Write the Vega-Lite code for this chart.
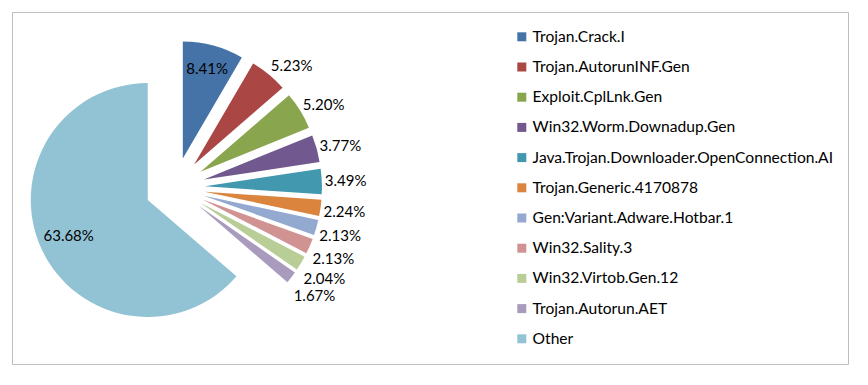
{
  "$schema": "https://vega.github.io/schema/vega-lite/v6.json",
  "width": 836,
  "height": 352,
  "autosize": {"type": "none"},
  "padding": {"left": 12, "top": 12, "right": 20, "bottom": 21},
  "background": "#ffffff",
  "config": {
    "view": {"stroke": "#bdbdbd", "strokeWidth": 1, "fill": "#ffffff"},
    "font": "Lato"
  },
  "data": {
    "values": [
      {"name": "Trojan.Crack.I", "value": 8.41, "order": 1},
      {"name": "Trojan.AutorunINF.Gen", "value": 5.23, "order": 2},
      {"name": "Exploit.CplLnk.Gen", "value": 5.20, "order": 3},
      {"name": "Win32.Worm.Downadup.Gen", "value": 3.77, "order": 4},
      {"name": "Java.Trojan.Downloader.OpenConnection.AI", "value": 3.49, "order": 5},
      {"name": "Trojan.Generic.4170878", "value": 2.24, "order": 6},
      {"name": "Gen:Variant.Adware.Hotbar.1", "value": 2.13, "order": 7},
      {"name": "Win32.Sality.3", "value": 2.13, "order": 8},
      {"name": "Win32.Virtob.Gen.12", "value": 2.04, "order": 9},
      {"name": "Trojan.Autorun.AET", "value": 1.67, "order": 10},
      {"name": "Other", "value": 63.68, "order": 11}
    ]
  },
  "transform": [
    {"window": [{"op": "sum", "field": "value", "as": "cum"}], "sort": [{"field": "order", "order": "ascending"}], "frame": [null, 0]},
    {"calculate": "datum.cum - datum.value", "as": "start"},
    {"calculate": "(datum.start + datum.cum) / 2 / 100 * 2 * PI", "as": "ang"},
    {"calculate": "0.256 * sin(datum.ang)", "as": "ex"},
    {"calculate": "0.256 * cos(datum.ang)", "as": "ey"},
    {"calculate": "(datum.value > 8 ? (datum.value > 50 ? 1.0 : 1.05) : 1.282) * sin(datum.ang)", "as": "lx"},
    {"calculate": "(datum.value > 8 ? (datum.value > 50 ? 1.0 : 1.05) : (cos(datum.ang) > 0 ? 1.35 : 1.521)) * cos(datum.ang)", "as": "ly"},
    {"calculate": "format(datum.value, '.2f') + '%'", "as": "label"}
  ],
  "layer": [
    {
      "mark": {"type": "arc", "radius": 117, "stroke": null},
      "encoding": {
        "x": {"field": "ex", "type": "quantitative", "scale": {"domain": [-1, 1], "range": [46, 280]}, "axis": null},
        "y": {"field": "ey", "type": "quantitative", "scale": {"domain": [-1, 1], "range": [292.5, 58.5]}, "axis": null},
        "theta": {"field": "start", "type": "quantitative", "stack": null, "scale": {"domain": [0, 100], "range": [0, 6.283185307179586]}},
        "theta2": {"field": "cum"},
        "color": {
          "field": "name",
          "type": "nominal",
          "sort": null,
          "scale": {
            "domain": ["Trojan.Crack.I", "Trojan.AutorunINF.Gen", "Exploit.CplLnk.Gen", "Win32.Worm.Downadup.Gen", "Java.Trojan.Downloader.OpenConnection.AI", "Trojan.Generic.4170878", "Gen:Variant.Adware.Hotbar.1", "Win32.Sality.3", "Win32.Virtob.Gen.12", "Trojan.Autorun.AET", "Other"],
            "range": ["#4572A7", "#AA4643", "#89A54E", "#71588F", "#4198AF", "#DB843D", "#93A9CF", "#D19392", "#B9CD96", "#A99BBD", "#92C3D5"]
          },
          "legend": {
            "title": null,
            "orient": "none",
            "legendX": 502,
            "legendY": 17,
            "symbolType": "square",
            "symbolSize": 81,
            "symbolStrokeWidth": 0,
            "labelFontSize": 15.6,
            "labelFont": "Lato",
            "labelColor": "#000000",
            "labelOffset": 3,
            "rowPadding": 13.2,
            "labelLimit": 400,
            "padding": 0
          }
        }
      }
    },
    {
      "transform": [{"filter": "datum.value > 8"}],
      "mark": {"type": "text", "align": "center", "baseline": "middle", "fontSize": 15, "color": "#000000"},
      "encoding": {
        "x": {"field": "lx", "type": "quantitative"},
        "y": {"field": "ly", "type": "quantitative"},
        "text": {"field": "label"}
      }
    },
    {
      "transform": [{"filter": "datum.value <= 8"}],
      "mark": {"type": "text", "align": "left", "baseline": "middle", "fontSize": 15, "color": "#000000"},
      "encoding": {
        "x": {"field": "lx", "type": "quantitative"},
        "y": {"field": "ly", "type": "quantitative"},
        "text": {"field": "label"}
      }
    }
  ]
}
